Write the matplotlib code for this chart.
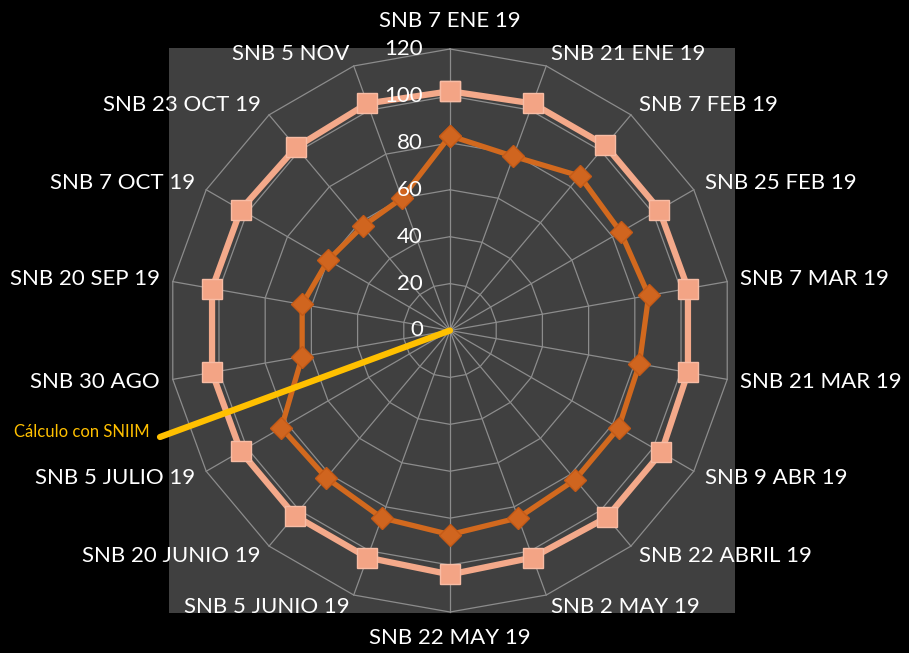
import numpy as np
import matplotlib
matplotlib.use("Agg")
import matplotlib.pyplot as plt
from matplotlib.patches import Rectangle
from matplotlib.transforms import offset_copy

categories = [
    "SNB 7 ENE 19", "SNB 21 ENE 19", "SNB 7 FEB 19", "SNB 25 FEB 19", "SNB 7 MAR 19",
    "SNB 21 MAR 19", "SNB 9 ABR 19", "SNB 22 ABRIL 19", "SNB 2 MAY 19", "SNB 22 MAY 19",
    "SNB 5 JUNIO 19", "SNB 20 JUNIO 19", "SNB 5 JULIO 19", "SNB 30 AGO", "SNB 20 SEP 19",
    "SNB 7 OCT 19", "SNB 23 OCT 19", "SNB 5 NOV",
]
serie_externa = [102, 103, 103, 103, 103, 103, 104, 104, 103, 104, 103, 103, 103, 103, 103, 103, 102, 103]
serie_snb = [83, 79, 86, 84, 86, 82, 83, 83, 85, 87, 85, 82, 83, 64, 64, 60, 58, 60]
radial_ticks = [0, 20, 40, 60, 80, 100, 120]
etiqueta_sniim = "Cálculo con SNIIM"

FONT = "Lato"
GRID = "#8c8c8c"
W, H = 909, 653


def draw_radar():
    fig = plt.figure(figsize=(W / 100, H / 100), dpi=100, facecolor="black")
    fig.patches.append(Rectangle((169 / W, 40 / H), 566 / W, 565 / H, transform=fig.transFigure,
                                 facecolor="#404040", edgecolor="none", zorder=-10))

    # polar axes centred at (450, 330) px, radius 281 px
    cx, cy, rad = 450, H - 330.5, 281.5
    ax = fig.add_axes([(cx - rad) / W, (cy - rad) / H, 2 * rad / W, 2 * rad / H], projection="polar")
    ax.set_theta_zero_location("N")
    ax.set_theta_direction(-1)
    ax.set_ylim(0, radial_ticks[-1])
    ax.patch.set_visible(False)
    ax.spines["polar"].set_visible(False)
    ax.grid(False)
    ax.set_xticks([])
    ax.set_yticks([])

    n = len(categories)
    theta = np.deg2rad(np.arange(n) * 360 / n)
    tc = np.append(theta, theta[0])

    # polygon grid
    for v in radial_ticks[1:]:
        ax.plot(tc, [v] * (n + 1), color=GRID, lw=0.9, zorder=1, clip_on=False)
    for t in theta:
        ax.plot([t, t], [0, radial_ticks[-1]], color=GRID, lw=0.9, zorder=1, clip_on=False)

    ext = np.append(serie_externa, serie_externa[0])
    snb = np.append(serie_snb, serie_snb[0])
    ax.plot(tc, ext, color="#F4A98A", lw=4.5, marker="s", ms=14, mfc="#F3A485", mec="#F8BCA4",
            mew=1, zorder=3, clip_on=False)
    ax.plot(tc, snb, color="#D2691E", lw=3.8, marker="D", ms=11.5, mfc="#D0651F", mec="#C55A16",
            mew=1, zorder=4, clip_on=False)

    # radial axis labels left of the top spoke
    trans = offset_copy(ax.transData, fig=fig, x=-27, y=0, units="dots")
    for v in radial_ticks:
        ax.text(0, v, str(v), transform=trans, ha="right", va="center", color="white",
                fontsize=16, family=FONT, zorder=5)

    # category labels outside the outer ring
    for t, name in zip(theta, categories):
        s, c = np.sin(t), np.cos(t)
        if abs(s) < 0.01:
            off = 18 if c > 0 else 16
            ha, va = "center", ("bottom" if c > 0 else "top")
        else:
            off = 13
            ha, va = ("left" if s > 0 else "right"), "center"
        tr = offset_copy(ax.transData, fig=fig, x=off * s, y=off * c, units="dots")
        ax.text(t, radial_ticks[-1], name, transform=tr, ha=ha, va=va, color="white",
                fontsize=16, family=FONT, zorder=5)

    # SNIIM callout
    ax.annotate("", xy=(0, 0), xytext=(160, H - 437), textcoords="figure pixels",
                arrowprops=dict(arrowstyle="-", color="#FFC000", lw=4.5, shrinkA=0, shrinkB=0),
                zorder=6, annotation_clip=False)
    fig.text(14 / W, (H - 432) / H, etiqueta_sniim, color="#FFC000", fontsize=12, family=FONT,
             ha="left", va="center")

    fig.savefig("out.png", dpi=100, facecolor="black")


draw_radar()
